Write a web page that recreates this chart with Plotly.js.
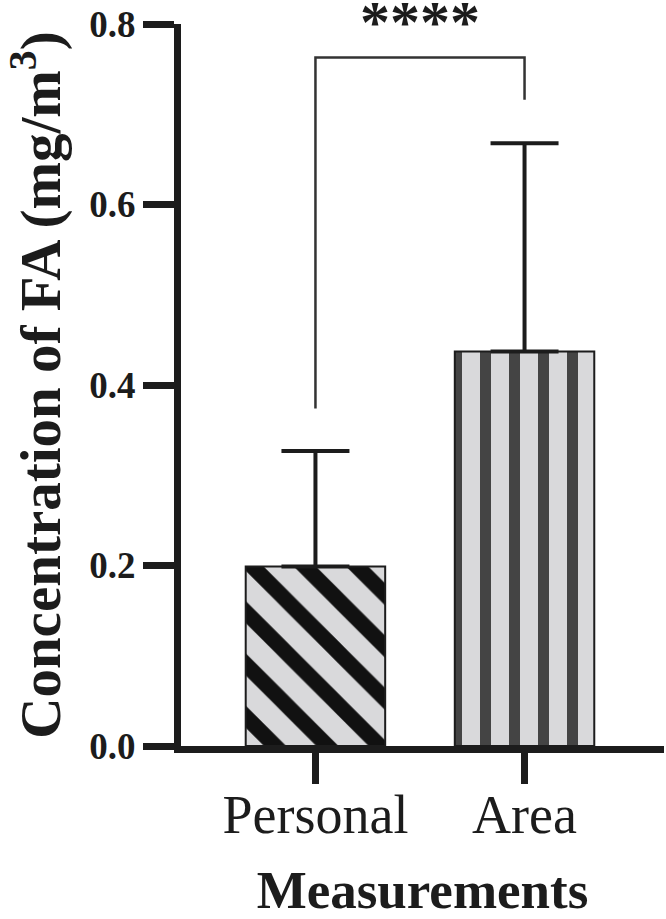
<!DOCTYPE html>
<html>
<head>
<meta charset="utf-8">
<script src="https://cdn.plot.ly/plotly-3.0.1.min.js"></script>
<style>
  html, body { margin: 0; padding: 0; background: #fff; }
  #chart { width: 666px; height: 919px; }
</style>
</head>
<body>
<div id="chart"></div>
<script>
// values
const groups = ["Personal", "Area"];
const means = [0.199, 0.437];
const sds = [0.128, 0.231];
const yTicks = [0, 0.2, 0.4, 0.6, 0.8];
const yTickText = ["0.0", "0.2", "0.4", "0.6", "0.8"];
const yMax = 0.8;

// significance bracket: left leg foot, top, right leg foot
const bracketY = [0.374, 0.763, 0.763, 0.716];
const bracketX = [groups[0], groups[0], groups[1], groups[1]];
const sigLabel = "****";
const sigY = 0.814;

const serif = '"Liberation Serif", "Times New Roman", serif';
const ink = "#1c1c1c";

const bars = {
    type: "bar",
    x: groups,
    y: means,
    width: 0.667,
    marker: {
        color: "#d9d9db",
        line: { color: ink, width: 2 },
        pattern: {
            shape: ["\\", "|"],
            bgcolor: "#d9d9db",
            fgcolor: ["#111111", "#444444"],
            size: [37, 29],
            solidity: [0.42, 0.38],
            fillmode: "replace"
        }
    },
    error_y: {
        type: "data",
        symmetric: false,
        array: sds,
        arrayminus: [0, 0],
        color: ink,
        thickness: 4,
        width: 34
    },
    hoverinfo: "skip"
};

const bracket = {
    type: "scatter",
    mode: "lines",
    x: bracketX,
    y: bracketY,
    line: { color: "#333333", width: 2.5 },
    hoverinfo: "skip"
};

const layout = {
    width: 666,
    height: 919,
    margin: { l: 181, r: 2, t: 24, b: 173 },
    paper_bgcolor: "#ffffff",
    plot_bgcolor: "#ffffff",
    showlegend: false,
    font: { family: serif, color: ink },
    xaxis: {
        type: "category",
        range: [-0.643, 1.667],
        showgrid: false,
        zeroline: false,
        showline: true,
        linecolor: ink,
        linewidth: 7,
        ticks: "outside",
        ticklen: 31,
        tickwidth: 7,
        tickcolor: ink,
        ticklabelstandoff: -16,
        tickfont: { family: serif, size: 54, color: ink },
        title: {
            text: "<b>Measurements</b>",
            font: { family: serif, size: 53, color: ink },
            standoff: 42
        }
    },
    yaxis: {
        range: [0, yMax],
        tickvals: yTicks,
        ticktext: yTickText.map(t => "<b>" + t + "</b>"),
        showgrid: false,
        zeroline: false,
        showline: true,
        linecolor: ink,
        linewidth: 7,
        ticks: "outside",
        ticklen: 31,
        tickwidth: 7,
        tickcolor: ink,
        tickfont: { family: serif, size: 37, color: ink },
        title: {
            text: "<b>Concentration of FA (mg/m<sup>3</sup>)</b>",
            font: { family: serif, size: 57, color: ink },
            standoff: 24
        }
    },
    annotations: [{
        x: 0.5,
        y: sigY / yMax,
        xref: "x",
        yref: "paper",
        text: "<b>" + sigLabel + "</b>",
        showarrow: false,
        font: { family: serif, size: 60, color: ink },
        xanchor: "center",
        yanchor: "middle",
        yshift: -11
    }]
};

Plotly.newPlot("chart", [bars, bracket], layout, { displayModeBar: false, staticPlot: true });
</script>
</body>
</html>
